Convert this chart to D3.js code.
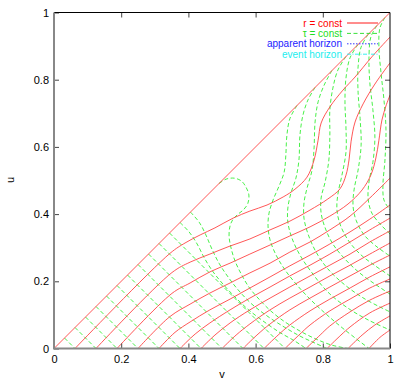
<!DOCTYPE html>
<html>
<head>
<meta charset="utf-8">
<script src="https://cdn.jsdelivr.net/npm/d3@7"></script>
<style>
  body { margin: 0; background: #fff; }
  svg text { font-family: "Liberation Sans", Arial, sans-serif; font-size: 11px; }
  svg .legend text { font-size: 10px; }
</style>
</head>
<body>
<svg id="chart" width="408" height="381"></svg>
<script>
// tick values on both axes
var ticks = [0, 0.2, 0.4, 0.6, 0.8, 1];

// legend entries
var legendLabels = ["r = const", "\u03c4 = const", "apparent horizon", "event horizon"];
var legendColors = ["#ff0000", "#22dd22", "#2222ff", "#22eeee"];

// r = const curves, points are [v, u]
var rConst = [
  [[0, 0], [1, 1]],
  [[0.0625,0],[0.345,0.283],[0.390,0.314],[0.435,0.338],[0.479,0.359],[0.533,0.388],[0.583,0.409],[0.634,0.427],[0.682,0.451],[0.717,0.474],[0.753,0.510],[0.774,0.561],[0.786,0.620],[0.795,0.671],[0.821,0.719],[0.860,0.769],[0.896,0.808],[0.946,0.868],[1,0.927]],
  [[0.125,0],[0.351,0.226],[0.405,0.257],[0.464,0.281],[0.524,0.305],[0.583,0.326],[0.643,0.353],[0.702,0.379],[0.762,0.412],[0.815,0.445],[0.851,0.475],[0.869,0.516],[0.878,0.561],[0.884,0.615],[0.896,0.674],[0.920,0.728],[0.955,0.787],[1,0.850]],
  [[0.1875,0],[0.351,0.164],[0.405,0.195],[0.464,0.228],[0.524,0.254],[0.583,0.281],[0.643,0.308],[0.702,0.335],[0.762,0.362],[0.821,0.394],[0.875,0.430],[0.917,0.472],[0.943,0.516],[0.958,0.567],[0.967,0.620],[0.976,0.680],[0.988,0.722],[1,0.754]],
  [[0.25,0],[0.345,0.095],[0.405,0.132],[0.464,0.165],[0.524,0.195],[0.583,0.225],[0.643,0.254],[0.702,0.287],[0.762,0.317],[0.821,0.353],[0.881,0.394],[0.940,0.448],[1,0.507]],
  [[0.3125,0],[0.360,0.048],[0.405,0.079],[0.464,0.115],[0.524,0.147],[0.583,0.180],[0.643,0.213],[0.702,0.246],[0.762,0.278],[0.821,0.311],[0.881,0.347],[0.940,0.385],[1,0.427]],
  [[0.375,0],[0.420,0.043],[0.464,0.076],[0.524,0.115],[0.583,0.150],[0.643,0.183],[0.702,0.216],[0.762,0.248],[0.821,0.281],[0.881,0.317],[0.940,0.353],[1,0.388]],
  [[0.4375,0],[0.479,0.040],[0.524,0.076],[0.583,0.115],[0.643,0.150],[0.702,0.183],[0.762,0.216],[0.821,0.248],[0.881,0.281],[0.940,0.317],[1,0.350]],
  [[0.5,0],[0.542,0.040],[0.583,0.073],[0.643,0.115],[0.702,0.150],[0.762,0.183],[0.821,0.216],[0.881,0.248],[0.940,0.281],[1,0.314]],
  [[0.5625,0],[0.604,0.040],[0.643,0.073],[0.702,0.115],[0.762,0.150],[0.821,0.183],[0.881,0.216],[0.940,0.248],[1,0.278]],
  [[0.625,0],[0.667,0.040],[0.702,0.070],[0.762,0.112],[0.821,0.147],[0.881,0.180],[0.940,0.213],[1,0.243]],
  [[0.6875,0],[0.729,0.040],[0.762,0.070],[0.821,0.112],[0.881,0.147],[0.940,0.180],[1,0.207]],
  [[0.75,0],[0.792,0.040],[0.821,0.067],[0.881,0.109],[0.940,0.144],[1,0.171]],
  [[0.8125,0],[0.854,0.040],[0.881,0.064],[0.940,0.106],[1,0.135]],
  [[0.875,0],[0.917,0.040],[0.955,0.070],[1,0.097]],
  [[0.9375,0],[0.970,0.033],[1,0.055]]
];

// tau = const curves, points are [v, u]
var tauConst = [
  [[0.03125,0.03125],[0.0625,0]],
  [[0.0625,0.0625],[0.125,0]],
  [[0.09375,0.09375],[0.1875,0]],
  [[0.125,0.125],[0.25,0]],
  [[0.15625,0.15625],[0.3125,0]],
  [[0.1875,0.1875],[0.375,0]],
  [[0.21875,0.21875],[0.4375,0]],
  [[0.25,0.25],[0.5,0]],
  [[0.28125,0.28125],[0.5625,0]],
  [[0.3125,0.3125],[0.625,0]],
  [[0.34375,0.34375],[0.6875,0]],
  [[0.375,0.375],[0.402,0.347],[0.426,0.311],[0.446,0.272],[0.470,0.233],[0.5,0.195],[0.536,0.156],[0.577,0.117],[0.622,0.082],[0.670,0.049],[0.717,0.022],[0.75,0]],
  [[0.406,0.406],[0.432,0.376],[0.452,0.338],[0.470,0.296],[0.491,0.254],[0.518,0.213],[0.551,0.171],[0.589,0.132],[0.634,0.097],[0.685,0.064],[0.732,0.037],[0.777,0.016],[0.8125,0]],
  [[0.491,0.491],[0.512,0.504],[0.536,0.507],[0.557,0.499],[0.571,0.481],[0.580,0.457],[0.577,0.432],[0.565,0.414],[0.548,0.400],[0.533,0.385],[0.524,0.365],[0.521,0.335],[0.527,0.299],[0.539,0.260],[0.557,0.222],[0.580,0.183],[0.610,0.147],[0.646,0.111],[0.6875,0.079],[0.732,0.052],[0.780,0.028],[0.827,0.010],[0.875,0]],
  [[0.723,0.723],[0.702,0.684],[0.693,0.633],[0.690,0.576],[0.685,0.525],[0.670,0.484],[0.652,0.442],[0.640,0.403],[0.637,0.365],[0.643,0.323],[0.661,0.278],[0.6875,0.234],[0.723,0.189],[0.765,0.144],[0.8125,0.100],[0.866,0.055],[0.9375,0]],
  [[0.777,0.777],[0.756,0.740],[0.741,0.695],[0.732,0.635],[0.729,0.561],[0.720,0.507],[0.705,0.462],[0.696,0.418],[0.696,0.376],[0.708,0.329],[0.732,0.278],[0.768,0.225],[0.815,0.168],[0.875,0.120],[0.935,0.085],[1,0.055]],
  [[0.827,0.827],[0.804,0.784],[0.786,0.734],[0.777,0.674],[0.774,0.597],[0.768,0.531],[0.753,0.477],[0.744,0.433],[0.744,0.388],[0.756,0.341],[0.780,0.287],[0.815,0.237],[0.866,0.189],[0.926,0.147],[1,0.109]],
  [[0.869,0.869],[0.845,0.829],[0.830,0.775],[0.821,0.710],[0.821,0.635],[0.818,0.561],[0.807,0.496],[0.795,0.448],[0.795,0.403],[0.807,0.359],[0.830,0.311],[0.869,0.263],[0.917,0.219],[1,0.162]],
  [[0.905,0.905],[0.881,0.865],[0.869,0.805],[0.866,0.734],[0.869,0.656],[0.869,0.585],[0.857,0.516],[0.845,0.460],[0.842,0.415],[0.851,0.371],[0.875,0.323],[0.911,0.281],[0.952,0.249],[1,0.216]],
  [[0.935,0.935],[0.914,0.897],[0.905,0.838],[0.905,0.763],[0.911,0.685],[0.914,0.605],[0.905,0.531],[0.893,0.472],[0.890,0.424],[0.899,0.382],[0.923,0.338],[0.958,0.305],[1,0.275]],
  [[0.961,0.961],[0.943,0.927],[0.9375,0.868],[0.940,0.791],[0.949,0.711],[0.955,0.628],[0.949,0.554],[0.9375,0.496],[0.935,0.445],[0.946,0.403],[0.973,0.368],[1,0.341]],
  [[0.985,0.985],[0.970,0.954],[0.967,0.897],[0.973,0.823],[0.982,0.740],[0.988,0.653],[0.985,0.561],[0.979,0.487],[0.982,0.442],[1,0.412]]
];

var svg = d3.select("#chart");

var x = d3.scaleLinear().domain([0, 1]).range([54, 390]);
var y = d3.scaleLinear().domain([0, 1]).range([348.5, 12.5]);

svg.append("clipPath").attr("id", "plotclip")
  .append("rect")
  .attr("x", 54).attr("y", 12.5)
  .attr("width", 336).attr("height", 336);

var line = d3.line()
  .x(function(d){ return x(d[0]); })
  .y(function(d){ return y(d[1]); })
  .curve(d3.curveCatmullRom.alpha(0.5));

var plot = svg.append("g").attr("clip-path", "url(#plotclip)");

// green dashed tau lines
plot.append("g").selectAll("path")
  .data(tauConst)
  .enter().append("path")
  .attr("d", line)
  .attr("fill", "none")
  .attr("stroke", "#33ee33")
  .attr("stroke-width", 0.9)
  .attr("stroke-dasharray", "4,2.5");

// red r lines
plot.append("g").selectAll("path")
  .data(rConst)
  .enter().append("path")
  .attr("d", line)
  .attr("fill", "none")
  .attr("stroke", "#ff4444")
  .attr("stroke-width", 0.9);

// axes with inward ticks
var fmt = function(d){ return String(d); };

svg.append("g")
  .attr("transform", "translate(0,348.5)")
  .call(d3.axisBottom(x).tickValues(ticks).tickSize(-5).tickPadding(7).tickFormat(fmt))
  .call(function(g){ g.select(".domain").remove(); });

svg.append("g")
  .attr("transform", "translate(0,12.5)")
  .call(d3.axisTop(x).tickValues(ticks.slice(1, 5)).tickSize(-5).tickFormat(""))
  .call(function(g){ g.select(".domain").remove(); });

svg.append("g")
  .attr("transform", "translate(54,0)")
  .call(d3.axisLeft(y).tickValues(ticks).tickSize(-5).tickPadding(5).tickFormat(fmt))
  .call(function(g){ g.select(".domain").remove(); });

svg.append("g")
  .attr("transform", "translate(390,0)")
  .call(d3.axisRight(y).tickValues(ticks.slice(1, 5)).tickSize(-5).tickFormat(""))
  .call(function(g){ g.select(".domain").remove(); });

svg.selectAll(".tick text").attr("fill", "#000");
svg.selectAll(".tick line").attr("stroke", "#444");

// border: top and right black, left and bottom grey
svg.append("path")
  .attr("d", "M54,12.5H390V348.5")
  .attr("fill", "none").attr("stroke", "#000").attr("stroke-width", 1);
svg.append("path")
  .attr("d", "M54,12.5V348.5H390")
  .attr("fill", "none").attr("stroke", "#888").attr("stroke-width", 2);

// axis labels
svg.append("text").attr("x", 222).attr("y", 378).attr("text-anchor", "middle").text("v");
svg.append("text")
  .attr("transform", "translate(14,180) rotate(-90)")
  .attr("text-anchor", "middle").text("u");

// legend
var legend = svg.append("g").attr("class", "legend").selectAll("g")
  .data(legendLabels)
  .enter().append("g")
  .attr("transform", function(d, i){ return "translate(0," + (23 + i * 10.4) + ")"; });

legend.append("text")
  .attr("x", 342).attr("dy", "0.35em")
  .attr("text-anchor", "end")
  .attr("fill", function(d, i){ return legendColors[i]; })
  .text(function(d){ return d; });

legend.append("line")
  .attr("x1", 347).attr("x2", 378)
  .attr("stroke", function(d, i){ return legendColors[i]; })
  .attr("stroke-width", 0.9)
  .attr("stroke-dasharray", function(d, i){ return ["", "4,2.5", "1.5,1.5", "4,1.5,1,1.5"][i]; });
</script>
</body>
</html>
